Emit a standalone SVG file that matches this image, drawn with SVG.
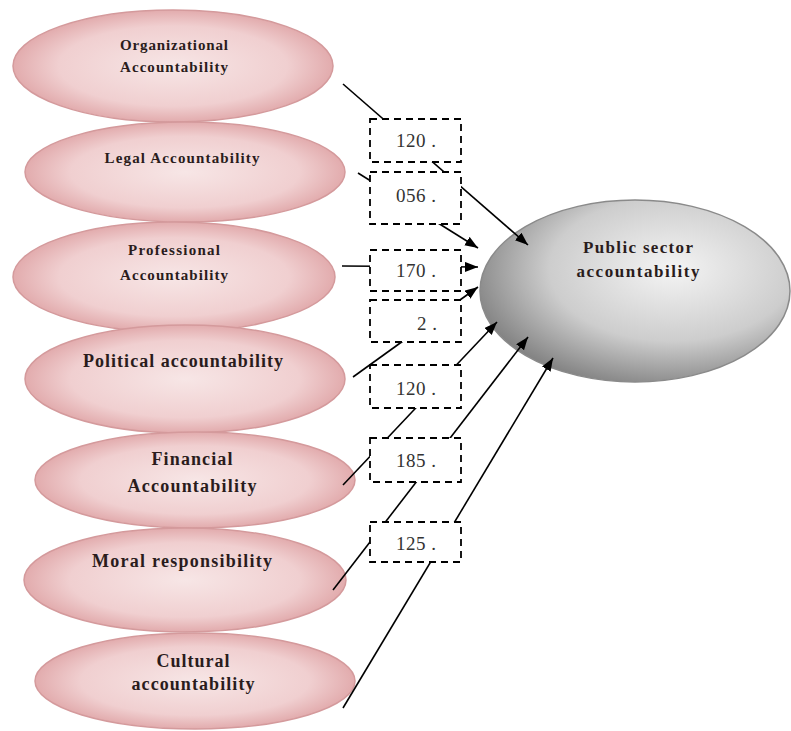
<svg xmlns="http://www.w3.org/2000/svg" width="791" height="731" viewBox="0 0 791 731">
<defs>
<radialGradient id="pink" cx="0.5" cy="0.5" r="0.55">
<stop offset="0" stop-color="#f7e6e6"/>
<stop offset="0.65" stop-color="#f0cfd0"/>
<stop offset="1" stop-color="#dd9fa1"/>
</radialGradient>
<radialGradient id="gray" cx="0.62" cy="0.38" r="0.72">
<stop offset="0" stop-color="#f4f4f4"/>
<stop offset="0.55" stop-color="#cdcdcd"/>
<stop offset="1" stop-color="#747474"/>
</radialGradient>
<marker id="arr" markerUnits="userSpaceOnUse" markerWidth="14" markerHeight="12" refX="13" refY="5" orient="auto">
<path d="M0,0 L13,5 L0,10 z" fill="#000"/>
</marker>
</defs>
<style>
.pe{fill:url(#pink);stroke:#d49a9c;stroke-width:1.5}
.ge{fill:url(#gray);stroke:#8a8a8a;stroke-width:1.5}
.pt{font-family:"Liberation Serif",serif;font-weight:bold;fill:#2a1c1c;text-anchor:middle}
.s15{font-size:15px}
.s17{font-size:17px}
.s18{font-size:18px}
.box{fill:#fff;stroke:#000;stroke-width:1.8;stroke-dasharray:7,5}
.bt{font-family:"Liberation Serif",serif;font-size:19px;fill:#333;text-anchor:middle}
.cn{stroke:#000;stroke-width:1.6;fill:none}
</style>

<g id="n-organizational">
<ellipse class="pe" cx="173" cy="66" rx="160" ry="56"/>
<text class="pt s15" x="174" y="50" textLength="108" lengthAdjust="spacing">Organizational</text>
<text class="pt s15" x="174" y="72" textLength="108" lengthAdjust="spacing">Accountability</text>
</g>
<g id="n-legal">
<ellipse class="pe" cx="185" cy="172" rx="160" ry="50"/>
<text class="pt s15" x="182" y="163" textLength="155" lengthAdjust="spacing">Legal Accountability</text>
</g>
<g id="n-professional">
<ellipse class="pe" cx="174" cy="277" rx="161" ry="55"/>
<text class="pt s15" x="174" y="255" textLength="92" lengthAdjust="spacing">Professional</text>
<text class="pt s15" x="174" y="280" textLength="108" lengthAdjust="spacing">Accountability</text>
</g>
<g id="n-political">
<ellipse class="pe" cx="185" cy="379" rx="160" ry="54"/>
<text class="pt s18" x="183" y="367" textLength="200" lengthAdjust="spacing">Political accountability</text>
</g>
<g id="n-financial">
<ellipse class="pe" cx="195" cy="480" rx="160" ry="48"/>
<text class="pt s18" x="192" y="465" textLength="81" lengthAdjust="spacing">Financial</text>
<text class="pt s18" x="192" y="492" textLength="129" lengthAdjust="spacing">Accountability</text>
</g>
<g id="n-moral">
<ellipse class="pe" cx="185" cy="580" rx="161" ry="52"/>
<text class="pt s18" x="182" y="567" textLength="180" lengthAdjust="spacing">Moral responsibility</text>
</g>
<g id="n-cultural">
<ellipse class="pe" cx="195" cy="681" rx="160" ry="48"/>
<text class="pt s18" x="193" y="667" textLength="73" lengthAdjust="spacing">Cultural</text>
<text class="pt s18" x="193" y="690" textLength="123" lengthAdjust="spacing">accountability</text>
</g>
<g id="n-public">
<ellipse class="ge" cx="635" cy="291" rx="155" ry="91"/>
<text class="pt s17" x="638" y="253" textLength="110" lengthAdjust="spacing">Public sector</text>
<text class="pt s17" x="638" y="277" textLength="123" lengthAdjust="spacing">accountability</text>
</g>

<g id="connectors">
<line class="cn" x1="343" y1="84" x2="528" y2="245" marker-end="url(#arr)"/>
<line class="cn" x1="358" y1="173" x2="478" y2="248" marker-end="url(#arr)"/>
<line class="cn" x1="342" y1="266" x2="478" y2="267" marker-end="url(#arr)"/>
<line class="cn" x1="353" y1="377" x2="478" y2="287" marker-end="url(#arr)"/>
<line class="cn" x1="343" y1="485" x2="497" y2="322" marker-end="url(#arr)"/>
<line class="cn" x1="333" y1="590" x2="528" y2="337" marker-end="url(#arr)"/>
<line class="cn" x1="343" y1="708" x2="553" y2="358" marker-end="url(#arr)"/>
</g>

<g id="w1"><rect class="box" x="370" y="119" width="91" height="43"/><text class="bt" x="416" y="147" textLength="40" lengthAdjust="spacing">120 .</text></g>
<g id="w2"><rect class="box" x="370" y="172" width="91" height="52"/><text class="bt" x="416" y="202" textLength="40" lengthAdjust="spacing">056 .</text></g>
<g id="w3"><rect class="box" x="370" y="250" width="91" height="41"/><text class="bt" x="416" y="277" textLength="40" lengthAdjust="spacing">170 .</text></g>
<g id="w4"><rect class="box" x="370" y="300" width="91" height="42"/><text class="bt" x="427" y="330" textLength="20" lengthAdjust="spacing">2 .</text></g>
<g id="w5"><rect class="box" x="370" y="365" width="91" height="43"/><text class="bt" x="416" y="395" textLength="40" lengthAdjust="spacing">120 .</text></g>
<g id="w6"><rect class="box" x="370" y="438" width="91" height="44"/><text class="bt" x="416" y="467" textLength="40" lengthAdjust="spacing">185 .</text></g>
<g id="w7"><rect class="box" x="370" y="522" width="91" height="40"/><text class="bt" x="416" y="550" textLength="40" lengthAdjust="spacing">125 .</text></g>
</svg>
